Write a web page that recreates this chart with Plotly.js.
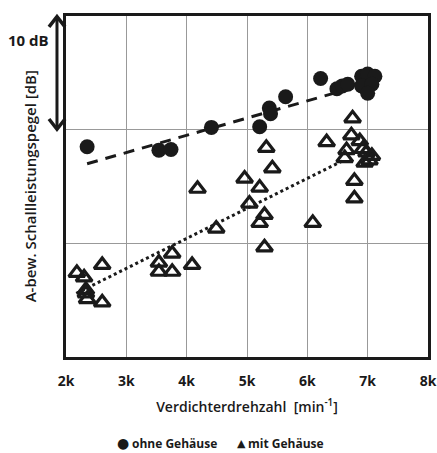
<!DOCTYPE html>
<html>
<head>
<meta charset="utf-8">
<script src="https://cdn.plot.ly/plotly-3.0.1.min.js"></script>
<style>html,body{margin:0;padding:0;background:#fff;}#chart{width:437px;height:453px;}</style>
</head>
<body>
<div id="chart"></div>
<script>
// Data (x in k min^-1, y in dB relative)
const ohneX = [2.35, 3.54, 3.74, 4.41, 5.21, 5.37, 5.39, 5.64, 6.22, 6.49, 6.58, 6.67, 6.90, 7.00, 7.12, 6.90, 7.07, 7.00];
const ohneY = [18.5, 18.2, 18.25, 20.2, 20.25, 21.9, 21.4, 22.9, 24.5, 23.6, 23.85, 24.0, 24.7, 24.9, 24.7, 23.85, 24.0, 23.2];
const mitX = [2.18, 2.30, 2.60, 2.33, 2.33, 2.35, 2.60, 3.54, 3.54, 3.76, 3.76, 4.09, 4.18, 4.49, 4.96, 5.04, 5.21, 5.29, 5.21, 5.32, 5.42, 5.29, 6.09, 6.32, 6.75, 6.73, 6.65, 6.62, 6.87, 6.92, 6.98, 7.03, 7.07, 6.95, 6.78, 6.78];
const mitY = [7.4, 7.0, 8.1, 5.9, 5.6, 5.1, 4.8, 8.3, 7.5, 9.1, 7.5, 8.1, 14.8, 11.3, 15.7, 13.5, 14.9, 12.5, 11.8, 18.4, 16.6, 9.65, 11.8, 18.9, 21.0, 19.5, 18.2, 17.5, 19.0, 18.3, 18.0, 17.3, 17.7, 17.1, 15.5, 13.95];
const trendOhneX = [2.35, 6.9];
const trendOhneY = [17.0, 23.9];
const trendMitX = [2.17, 6.6];
const trendMitY = [5.6, 17.3];
const xTickVals = [2, 3, 4, 5, 6, 7, 8];
const xTickText = ['2k', '3k', '4k', '5k', '6k', '7k', '8k'];
const seriesNames = ['ohne Gehäuse', 'mit Gehäuse'];

const FONT = 'Open Sans, Noto Sans, sans-serif';
const INK = '#1a1a1a';

const traces = [
  {x: trendOhneX, y: trendOhneY, mode: 'lines', showlegend: false, hoverinfo: 'skip',
   line: {color: INK, width: 3, dash: '11px,8px'}},
  {x: trendMitX, y: trendMitY, mode: 'lines', showlegend: false, hoverinfo: 'skip',
   line: {color: INK, width: 3, dash: 'dot'}},
  {x: ohneX, y: ohneY, mode: 'markers', name: seriesNames[0], showlegend: false,
   marker: {symbol: 'circle', size: 15, color: INK}},
  {x: mitX, y: mitY, mode: 'markers', name: seriesNames[1], showlegend: false,
   marker: {symbol: 'triangle-up-open', size: 14, color: INK, line: {width: 3.2, color: INK}}}
];

const legFont = {family: FONT, size: 12, weight: 'bold', color: INK};
const LY = -0.253;

// double-headed "10 dB" scale arrow (paper coordinates)
const AX = -0.0249, AXL = -0.047, AXR = -0.0027;
const arrowShapes = [
  {type: 'line', xref: 'paper', yref: 'paper', x0: AX, x1: AX, y0: 0.995, y1: 0.67, line: {color: INK, width: 3}},
  {type: 'path', xref: 'paper', yref: 'paper', path: `M ${AXL},0.968 L ${AX},0.998 L ${AXR},0.968`, line: {color: INK, width: 3.5}},
  {type: 'path', xref: 'paper', yref: 'paper', path: `M ${AXL},0.698 L ${AX},0.668 L ${AXR},0.698`, line: {color: INK, width: 3.5}}
];

const layout = {
  width: 437, height: 453,
  margin: {l: 66, r: 9, t: 16, b: 96, autoexpand: false},
  paper_bgcolor: '#fff', plot_bgcolor: '#fff',
  font: {family: FONT, color: INK},
  showlegend: false,
  xaxis: {
    range: [2, 8], tickvals: xTickVals, ticktext: xTickText,
    showgrid: true, gridcolor: '#999', gridwidth: 1,
    showline: true, linecolor: INK, linewidth: 3, mirror: true,
    ticks: '', zeroline: false, automargin: false, ticklabelstandoff: 9,
    tickfont: {family: FONT, size: 14, weight: 'bold', color: INK},
    title: {text: 'Verdichterdrehzahl  [min<sup>-1</sup>]', font: {family: FONT, size: 14, weight: 600, color: INK}, standoff: 14}
  },
  yaxis: {
    range: [0, 30], tickvals: [10, 20],
    showgrid: true, gridcolor: '#999', gridwidth: 1,
    showline: true, linecolor: INK, linewidth: 3, mirror: true,
    showticklabels: false, ticks: '', zeroline: false, automargin: false
  },
  shapes: arrowShapes,
  annotations: [
    {xref: 'paper', yref: 'paper', x: -0.133, y: 0.5, text: 'A-bew. Schallleistungspegel [dB]',
     textangle: -90, showarrow: false, font: {family: FONT, size: 15, weight: 600, color: INK}},
    {xref: 'paper', yref: 'paper', x: -0.104, y: 0.93, xanchor: 'center', yanchor: 'middle', text: '10 dB',
     showarrow: false, font: {family: FONT, size: 15, weight: 'bold', color: INK}},
    // legend
    {xref: 'paper', yref: 'paper', x: 0.157, y: LY, xanchor: 'center', yanchor: 'middle', text: '●',
     showarrow: false, font: {family: 'DejaVu Sans', size: 14, color: INK}},
    {xref: 'paper', yref: 'paper', x: 0.178, y: LY, xanchor: 'left', yanchor: 'middle', text: seriesNames[0],
     showarrow: false, font: legFont},
    {xref: 'paper', yref: 'paper', x: 0.486, y: LY, xanchor: 'center', yanchor: 'middle', text: '▲',
     showarrow: false, font: {family: 'DejaVu Sans', size: 11, color: INK}},
    {xref: 'paper', yref: 'paper', x: 0.498, y: LY, xanchor: 'left', yanchor: 'middle', text: seriesNames[1],
     showarrow: false, font: legFont}
  ]
};

Plotly.newPlot('chart', traces, layout, {displayModeBar: false, staticPlot: true});
</script>
</body>
</html>
